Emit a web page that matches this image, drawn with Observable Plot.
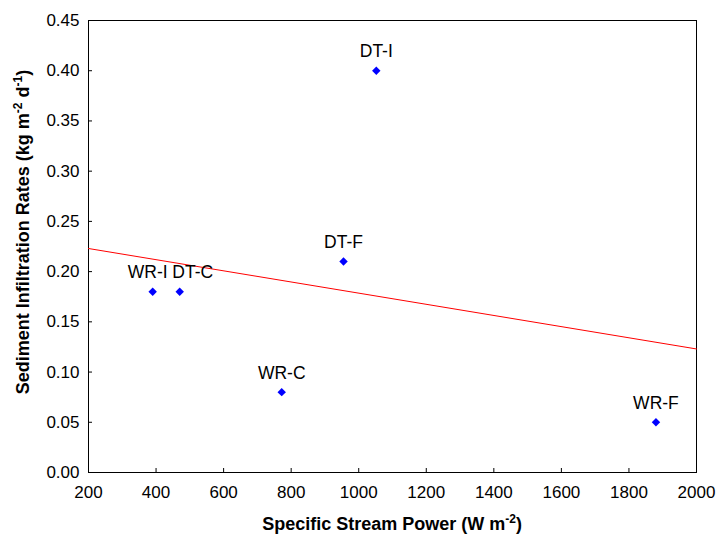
<!DOCTYPE html>
<html>
<head>
<meta charset="utf-8">
<script src="https://cdn.jsdelivr.net/npm/d3@7"></script>
<script src="https://cdn.jsdelivr.net/npm/@observablehq/plot@0.6"></script>
<style>
  html, body { margin: 0; padding: 0; background: #fff; }
  #chart { width: 717px; height: 535px; }
</style>
</head>
<body>
<div id="chart"></div>
<script>
const sites = ["WR-I", "DT-C", "WR-C", "DT-F", "DT-I", "WR-F"];
const streamPower = [390, 470, 772, 955, 1052, 1880];
const infiltration = [0.18, 0.18, 0.08, 0.21, 0.40, 0.05];
const fitX = [200, 2000];
const fitY = [0.223, 0.123];
const xTicks = [200, 400, 600, 800, 1000, 1200, 1400, 1600, 1800, 2000];
const yTicks = [0, 0.05, 0.10, 0.15, 0.20, 0.25, 0.30, 0.35, 0.40, 0.45];

const points = sites.map((s, i) => ({site: s, x: streamPower[i], y: infiltration[i]}));
const fit = fitX.map((x, i) => ({x, y: fitY[i]}));

const labelOpts = {x: "x", y: "y", text: "site", dy: -19, fontSize: 17.5, fill: "#000"};

const chart = Plot.plot({
  width: 717,
  height: 535,
  marginLeft: 88,
  marginRight: 21,
  marginTop: 20,
  marginBottom: 63,
  style: {fontFamily: "'Liberation Sans', Arial, sans-serif", fontSize: "17px", color: "#000", background: "#fff"},
  x: {domain: [200, 2000], label: null},
  y: {domain: [0, 0.45], label: null},
  marks: [
    Plot.frame({stroke: "#000", strokeWidth: 1}),
    Plot.axisX({ticks: xTicks, tickSize: -4, tickPadding: 17, tickFormat: d3.format("d"), fontSize: 17, label: null}),
    Plot.axisY({ticks: yTicks, tickSize: -4, tickPadding: 13, tickFormat: d3.format(".2f"), fontSize: 17, label: null}),
    Plot.line(fit, {x: "x", y: "y", stroke: "#ff0000", strokeWidth: 1}),
    Plot.dot(points, {x: "x", y: "y", symbol: "diamond2", r: 3.8, fill: "#0000ff", stroke: "none"}),
    Plot.text(points, {...labelOpts, filter: d => d.site !== "WR-I" && d.site !== "DT-C"}),
    Plot.text(points, {...labelOpts, filter: d => d.site === "WR-I", dx: -5}),
    Plot.text(points, {...labelOpts, filter: d => d.site === "DT-C", dx: 13}),
  ]
});

document.getElementById("chart").appendChild(chart);
const svg = d3.select(chart);

// Axis titles with superscripts
const yt = svg.append("text")
  .attr("transform", "translate(29,232) rotate(-90)")
  .attr("text-anchor", "middle")
  .attr("font-family", "'Liberation Sans', Arial, sans-serif")
  .attr("font-size", 18)
  .attr("font-weight", "bold")
  .attr("fill", "#000");
yt.append("tspan").text("Sediment Infiltration Rates (kg m");
yt.append("tspan").attr("font-size", 12).attr("dy", -7).text("-2");
yt.append("tspan").attr("dy", 7).text(" d");
yt.append("tspan").attr("font-size", 12).attr("dy", -7).text("-1");
yt.append("tspan").attr("dy", 7).text(")");

const xt = svg.append("text")
  .attr("x", 392).attr("y", 530)
  .attr("text-anchor", "middle")
  .attr("font-family", "'Liberation Sans', Arial, sans-serif")
  .attr("font-size", 18)
  .attr("font-weight", "bold")
  .attr("fill", "#000");
xt.append("tspan").text("Specific Stream Power (W m");
xt.append("tspan").attr("font-size", 12).attr("dy", -7).text("-2");
xt.append("tspan").attr("dy", 7).text(")");
</script>
</body>
</html>
